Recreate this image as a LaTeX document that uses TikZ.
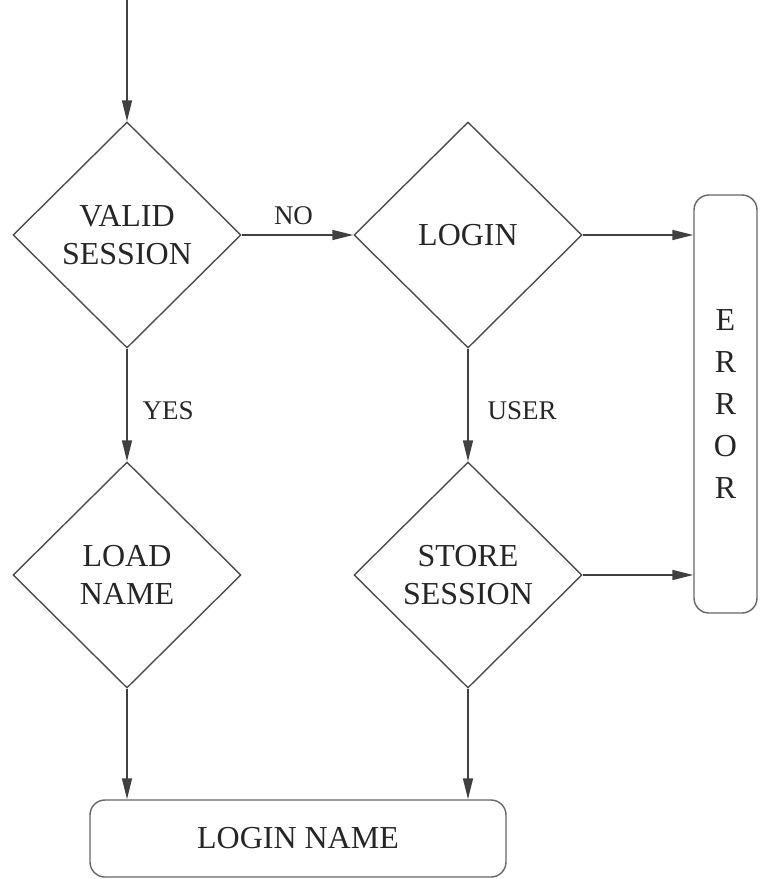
\documentclass[tikz,border=0pt]{standalone}
\usepackage{fontspec}
\setmainfont{Liberation Serif}
\usetikzlibrary{shapes.geometric,arrows.meta}
\begin{document}
\begin{tikzpicture}[x=1pt,y=-1pt,
  line width=1.4pt,
  every node/.style={text=black!85},
  decision/.style={diamond,draw=black!70,minimum width=228pt,minimum height=226pt,
    inner sep=0pt,align=center,font=\fontsize{32}{38}\selectfont},
  terminal/.style={rectangle,rounded corners=15pt,draw=black!60,inner sep=0pt,
    align=center,font=\fontsize{32}{42}\selectfont},
  flow/.style={draw=black!75,-{Triangle[length=21pt,width=10pt]}},
  lbl/.style={font=\fontsize{27}{32}\selectfont,inner sep=0pt}]
  \useasboundingbox (0,0) rectangle (763,879);

  \coordinate (start) at (127,0);
  \node[decision] (valid) at (127,235) {VALID\\SESSION};
  \node[decision] (login) at (468,235) {LOGIN};
  \node[decision] (load)  at (127,575) {LOAD\\NAME};
  \node[decision] (store) at (468,575) {STORE\\SESSION};
  \node[terminal,minimum width=63pt,minimum height=418pt] (error) at (725.5,404) {E\\R\\R\\O\\R};
  \node[terminal,minimum width=416pt,minimum height=77pt] (lname) at (298,838.5) {LOGIN NAME};

  \draw[flow] (start) -- (valid.north);
  \draw[flow] (valid.east) -- node[lbl,above=10pt,xshift=-4pt] {NO} (login.west);
  \draw[flow] (login.east) -- (login.east -| error.west);
  \draw[flow] (store.east) -- (store.east -| error.west);
  \draw[flow] (valid.south) -- node[lbl,right=15pt,yshift=-6pt] {YES} (load.north);
  \draw[flow] (login.south) -- node[lbl,right=19pt,yshift=-6pt] {USER} (store.north);
  \draw[flow] (load.south) -- (load.south |- lname.north);
  \draw[flow] (store.south) -- (store.south |- lname.north);
\end{tikzpicture}
\end{document}
